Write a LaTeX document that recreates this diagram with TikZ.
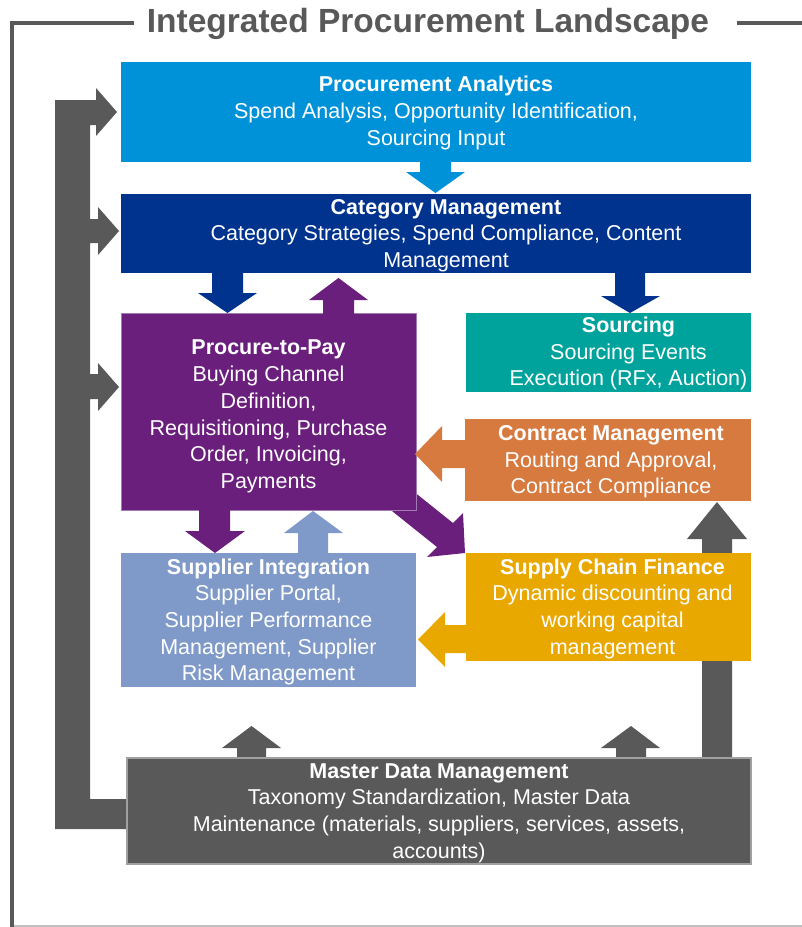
\documentclass[tikz,border=0pt]{standalone}
\usepackage{fontspec}
\setmainfont{Liberation Sans}
\definecolor{cPA}{HTML}{0092D8}
\definecolor{cCM}{HTML}{00338D}
\definecolor{cPP}{HTML}{6B1F7C}
\definecolor{cPPb}{HTML}{A27AB2}
\definecolor{cSR}{HTML}{00A39B}
\definecolor{cCT}{HTML}{D77A3F}
\definecolor{cSF}{HTML}{E9A800}
\definecolor{cSI}{HTML}{7F9AC8}
\definecolor{cGR}{HTML}{595959}
\definecolor{cGRb}{HTML}{A0A0A0}
\definecolor{cLine}{HTML}{BFBFBF}
\begin{document}
\begin{tikzpicture}[x=1pt,y=-1pt,
  box/.style={anchor=north west, inner sep=0pt, outer sep=0pt, draw=none},
  txt/.style={inner sep=0pt, text=white, align=center, font=\fontsize{21.5}{26.7}\selectfont},
  blk/.style={draw=none}]
\useasboundingbox (0,0) rectangle (802,927);

% frame
\draw[cGR, line width=4pt] (134,23) -- (11.5,23) -- (11.5,927);
\draw[cGR, line width=4pt] (737,23) -- (802,23);
\draw[cLine, line width=2pt] (14,926) -- (802,926);
\node[anchor=base, text=cGR, font=\fontsize{33.5}{36}\selectfont\bfseries] (title) at (428,32) {Integrated Procurement Landscape};

% left grey feedback bar
\fill[cGR] (55,100) -- (96,100) -- (96,88) -- (117,112) -- (96,136) -- (96,125) -- (90,125)
  -- (90,219) -- (98,219) -- (98,207) -- (119,231) -- (98,255) -- (98,243) -- (90,243)
  -- (90,374) -- (98,374) -- (98,363) -- (119,387) -- (98,411) -- (98,399) -- (90,399)
  -- (90,799) -- (140,799) -- (140,829) -- (55,829) -- cycle;

% grey arrow to Contract Management
\fill[cGR] (702,760) -- (702,539) -- (687,539) -- (717,502) -- (747,539) -- (732,539) -- (732,760) -- cycle;
% grey arrows up from Master Data
\fill[cGR] (237,760) -- (237,748) -- (222,748) -- (251.5,726) -- (281,748) -- (266,748) -- (266,760) -- cycle;
\fill[cGR] (616,760) -- (616,748) -- (601,748) -- (631,726) -- (660,748) -- (646,748) -- (646,760) -- cycle;

% diagonal purple arrow P2P -> SCF
\fill[cPP] (403,483) -- (453,523) -- (463,513) -- (465,553) -- (427,557) -- (437,547) -- (382,503) -- cycle;

% boxes
\node[box, fill=cPA, minimum width=630pt, minimum height=100pt] (pa) at (121,62) {};
\node[box, fill=cCM, minimum width=630pt, minimum height=79pt] (cm) at (121,194) {};
\node[box, fill=cPP, draw=cPPb, line width=1pt, minimum width=295pt, minimum height=197pt] (pp) at (121,313) {};
\node[box, fill=cSR, minimum width=285pt, minimum height=79pt] (sr) at (466,313) {};
\node[box, fill=cCT, minimum width=286pt, minimum height=82pt] (ct) at (465,419) {};
\node[box, fill=cSF, minimum width=285pt, minimum height=108pt] (sf) at (466,553) {};
\node[box, fill=cSI, minimum width=295pt, minimum height=134pt] (si) at (121,553) {};
\node[box, fill=cGR, draw=cGRb, line width=1.5pt, minimum width=624pt, minimum height=106pt] (md) at (127,758) {};

% block arrows between boxes
\fill[cPA] (420,161) -- (451,161) -- (451,172) -- (465,172) -- (435.5,193) -- (406,172) -- (420,172) -- cycle;
\fill[cCM] (212,272) -- (243,272) -- (243,293) -- (257,293) -- (227.5,313) -- (198,293) -- (212,293) -- cycle;
\fill[cPP] (323,314) -- (354,314) -- (354,300) -- (368,300) -- (338.5,278) -- (309,300) -- (323,300) -- cycle;
\fill[cCM] (615,272) -- (645,272) -- (645,296) -- (660,296) -- (630,313) -- (601,296) -- (615,296) -- cycle;
\fill[cCT] (466,440) -- (442,440) -- (442,426) -- (415,454) -- (442,482) -- (442,468) -- (466,468) -- cycle;
\fill[cPP] (199,509) -- (230,509) -- (230,531) -- (245,531) -- (215,553) -- (185,531) -- (199,531) -- cycle;
\fill[cSI] (298,553) -- (328,553) -- (328,533) -- (343,533) -- (313,511) -- (284,533) -- (298,533) -- cycle;
\fill[cSF] (467,625) -- (445,625) -- (445,612) -- (418,639.5) -- (445,667) -- (445,653) -- (467,653) -- cycle;

% texts
\node[txt] (tpa) at ([yshift=-1pt]pa.center) {{\bfseries Procurement Analytics}\\Spend Analysis, Opportunity Identification,\\Sourcing Input};
\node[txt] (tcm) at ([xshift=10pt,yshift=-2pt]cm.center) {{\bfseries Category Management}\\Category Strategies, Spend Compliance, Content\\Management};
\node[txt] (tpp) at ([yshift=-5pt]pp.center) {{\bfseries Procure-to-Pay}\\Buying Channel\\Definition,\\Requisitioning, Purchase\\Order, Invoicing,\\Payments};
\node[txt] (tsr) at ([xshift=20pt,yshift=-1pt]sr.center) {{\bfseries Sourcing}\\Sourcing Events\\Execution (RFx, Auction)};
\node[txt] (tct) at ([xshift=3pt,yshift=-2pt]ct.center) {{\bfseries Contract Management}\\Routing and Approval,\\Contract Compliance};
\node[txt] (tsf) at ([xshift=4pt,yshift=-1.5pt]sf.center) {{\bfseries Supply Chain Finance}\\Dynamic discounting and\\working capital\\management};
\node[txt] (tsi) at ([yshift=-2pt]si.center) {{\bfseries Supplier Integration}\\Supplier Portal,\\Supplier Performance\\Management, Supplier\\Risk Management};
\node[txt] (tmd) at ([yshift=-2pt]md.center) {{\bfseries Master Data Management}\\Taxonomy Standardization, Master Data\\Maintenance (materials, suppliers, services, assets,\\accounts)};
\end{tikzpicture}
\end{document}
